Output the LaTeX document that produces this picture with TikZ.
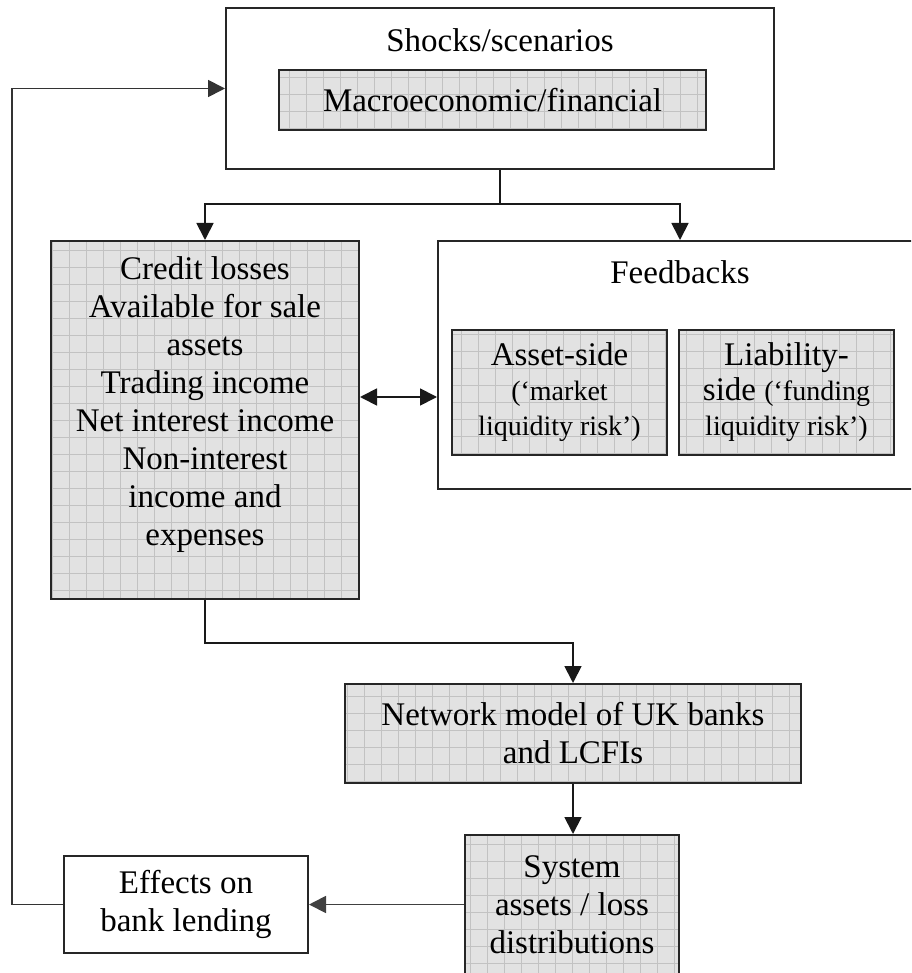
\documentclass[tikz,border=0pt]{standalone}
\usepackage{fontspec}
\setmainfont{Liberation Serif}
\usetikzlibrary{arrows.meta}
\definecolor{gridfill}{HTML}{E2E2E2}
\definecolor{gridrule}{HTML}{C2C2C2}
\newcommand{\bigtxt}{\fontsize{33}{38}\selectfont}
\newcommand{\smalltxt}{\fontsize{28}{33}\selectfont}

\begin{document}
\begin{tikzpicture}[x=1pt, y=-1pt,
    plainbox/.style={draw=black!85, line width=2pt, fill=white, inner sep=0pt},
    gridbox/.style={plainbox, fill=gridfill, path picture={\draw[gridrule, line width=0.7pt, step=17pt] (path picture bounding box.south west) grid (path picture bounding box.north east);}},
    boxtext/.style={font=\bigtxt, align=center, inner sep=0pt},
    link/.style={line width=1.8pt, draw=black!90},
    flow/.style={link, -{Triangle[length=17pt, width=17pt]}}]

    \useasboundingbox (0,0) rectangle (911,973);
    \clip (0,0) rectangle (911,973);

    % Shocks / scenarios
    \node[plainbox, minimum width=548, minimum height=161] (shocks) at (500, 88.5) {};
    \node[boxtext] (shockstitle) at (500, 40) {Shocks/scenarios};
    \node[gridbox, boxtext, minimum width=427, minimum height=60] (macro) at (492.5, 100) {Macroeconomic/financial};

    % Income and losses
    \node[gridbox, minimum width=308, minimum height=358] (credit) at (205, 420) {};
    \node[boxtext] (credittext) at (205, 405) {Credit losses\\Available for sale\\assets\\Trading income\\Net interest income\\Non-interest\\income and\\expenses};

    % Feedbacks
    \node[plainbox, minimum width=484, minimum height=248] (feedbacks) at (680, 365) {};
    \node[boxtext] (feedtitle) at (680, 272) {Feedbacks};
    \node[gridbox, boxtext, font=\fontsize{33}{35}\selectfont, minimum width=215, minimum height=125] (asset) at (559.5, 392.5) {Asset-side\\{\smalltxt (`market}\\{\smalltxt liquidity risk')}};
    \node[gridbox, boxtext, font=\fontsize{33}{35}\selectfont, minimum width=215, minimum height=125] (liability) at (786.5, 392.5) {Liability-\\side {\smalltxt (`funding}\\{\smalltxt liquidity risk')}};

    % Network model and outputs
    \node[gridbox, boxtext, minimum width=456, minimum height=99] (network) at (573, 733.5) {Network model of UK banks\\and LCFIs};
    \node[gridbox, minimum width=214, minimum height=154] (system) at (572, 912) {};
    \node[boxtext] (systemtext) at (572, 905) {System\\assets / loss\\distributions};
    \node[plainbox, boxtext, minimum width=244, minimum height=97] (effects) at (186, 904.5) {Effects on\\bank lending};

    % Connectors
    \coordinate (split) at (500, 204);
    \draw[link] (shocks.south) -- (split);
    \draw[flow] (split) -| (credit.north);
    \draw[flow] (split) -| (feedbacks.north);
    \draw[link, {Triangle[length=17pt, width=17pt]}-{Triangle[length=17pt, width=17pt]}] (credit.east |- 0,397) -- (feedbacks.west |- 0,397);
    \draw[flow] (credit.south) -- ++(0,43) -| (network.north);
    \draw[flow] (network.south) -- (network.south |- system.north);
    \draw[flow, draw=black!75] (system.west |- effects.east) -- (effects.east);
    \draw[flow, draw=black!80] (effects.west) -- ++(-51,0) |- (shocks.west);

\end{tikzpicture}
\end{document}
